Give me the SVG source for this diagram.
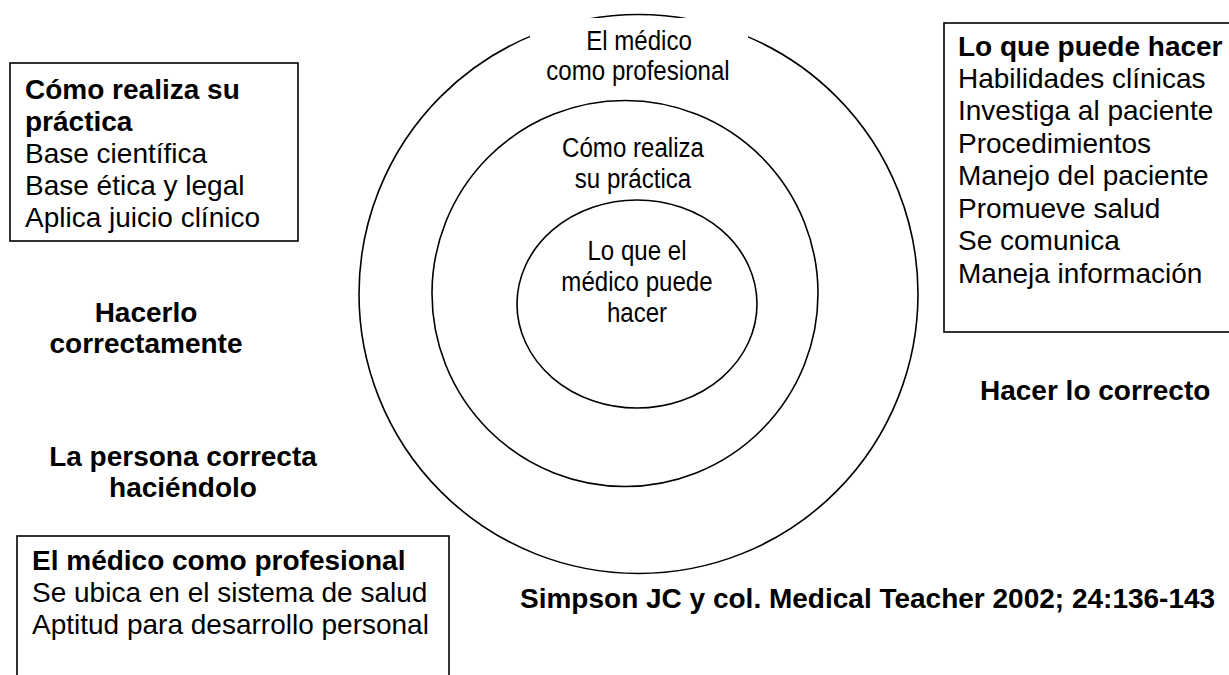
<svg xmlns="http://www.w3.org/2000/svg" width="1229" height="675" viewBox="0 0 1229 675">
  <style>
    .ring { fill: none; stroke: #000; stroke-width: 1.6; }
    .box { fill: #fff; stroke: #000; stroke-width: 1.6; }
    .t { font-family: "Liberation Sans", Arial, sans-serif; font-size: 28px; fill: #000; }
    .b { font-weight: bold; }
    .n { font-family: "Liberation Sans", Arial, sans-serif; font-size: 28px; fill: #000; text-anchor: middle; }
    .c { text-anchor: middle; }
  </style>
  <rect width="1229" height="675" fill="#fff"/>
  <g id="rings">
    <circle id="ring-outer" class="ring" cx="638.5" cy="294" r="279.5"/>
    <circle id="ring-middle" class="ring" cx="625" cy="293.5" r="193"/>
    <ellipse id="ring-inner" class="ring" cx="637" cy="304" rx="120" ry="104"/>
  </g>
  <g id="label-outer">
    <rect x="530" y="18" width="218" height="72" fill="#fff"/>
    <text class="n" transform="translate(639,50) scale(0.86,1)">El médico</text>
    <text class="n" transform="translate(638,80) scale(0.86,1)">como profesional</text>
  </g>
  <g id="label-middle">
    <text class="n" transform="translate(633,157) scale(0.86,1)">Cómo realiza</text>
    <text class="n" transform="translate(633,188) scale(0.86,1)">su práctica</text>
  </g>
  <g id="label-inner">
    <text class="n" transform="translate(637,260) scale(0.86,1)">Lo que el</text>
    <text class="n" transform="translate(637,291) scale(0.86,1)">médico puede</text>
    <text class="n" transform="translate(637,322) scale(0.86,1)">hacer</text>
  </g>
  <g id="box-practica">
    <rect class="box" x="10" y="63" width="288" height="178"/>
    <text class="t b" x="25" y="99">Cómo realiza su</text>
    <text class="t b" x="25" y="131">práctica</text>
    <text class="t" x="25" y="163">Base científica</text>
    <text class="t" x="25" y="195">Base ética y legal</text>
    <text class="t" x="25" y="227">Aplica juicio clínico</text>
  </g>
  <g id="box-puede">
    <rect class="box" x="944" y="23" width="300" height="309"/>
    <text class="t b" x="958" y="56">Lo que puede hacer</text>
    <text class="t" x="958" y="88">Habilidades clínicas</text>
    <text class="t" x="958" y="120">Investiga al paciente</text>
    <text class="t" x="958" y="153">Procedimientos</text>
    <text class="t" x="958" y="185">Manejo del paciente</text>
    <text class="t" x="958" y="218">Promueve salud</text>
    <text class="t" x="958" y="250">Se comunica</text>
    <text class="t" x="958" y="283">Maneja información</text>
  </g>
  <g id="box-profesional">
    <rect class="box" x="17" y="536" width="432" height="150"/>
    <text class="t b" x="32" y="570">El médico como profesional</text>
    <text class="t" x="32" y="602">Se ubica en el sistema de salud</text>
    <text class="t" x="32" y="634">Aptitud para desarrollo personal</text>
  </g>
  <g id="label-hacerlo">
    <text class="t b c" x="146" y="322">Hacerlo</text>
    <text class="t b c" x="146" y="353">correctamente</text>
  </g>
  <g id="label-persona">
    <text class="t b c" x="183" y="466">La persona correcta</text>
    <text class="t b c" x="183" y="497">haciéndolo</text>
  </g>
  <g id="label-correcto">
    <text class="t b" x="980" y="400">Hacer lo correcto</text>
  </g>
  <g id="label-ref">
    <text class="t b" x="520" y="608">Simpson JC y col. Medical Teacher 2002; 24:136-143</text>
  </g>
  <g id="connectors"/>
</svg>
